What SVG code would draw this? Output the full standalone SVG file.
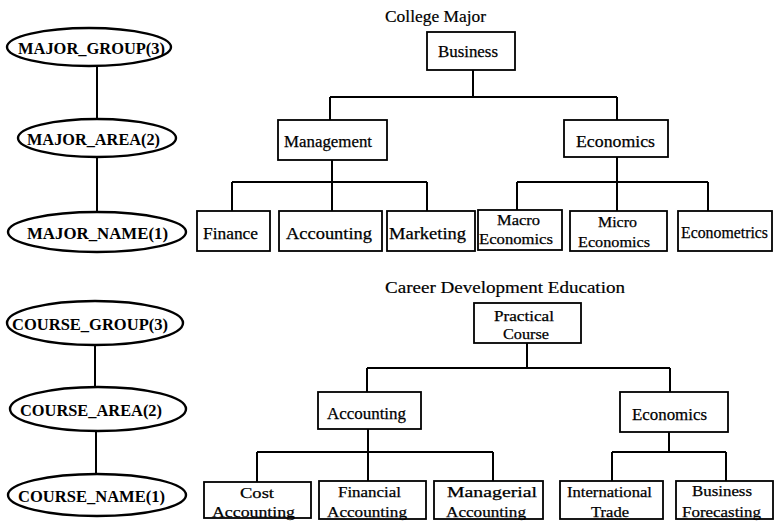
<svg xmlns="http://www.w3.org/2000/svg" width="775" height="522" viewBox="0 0 775 522">
  <style>
    .ell { fill: #fff; stroke: #000; stroke-width: 2.4; }
    .box { fill: #fff; stroke: #000; stroke-width: 1.8; }
    .lvl { font-family: "Liberation Serif", "Times New Roman", serif; font-size: 17.5px; font-weight: bold; fill: #000; }
    .lbl { font-family: "Liberation Serif", "Times New Roman", serif; font-size: 16.5px; fill: #000; stroke: #000; stroke-width: 0.25; }
    .lbl2 { font-family: "Liberation Serif", "Times New Roman", serif; font-size: 15px; fill: #000; stroke: #000; stroke-width: 0.25; }
    .ttl { font-family: "Liberation Serif", "Times New Roman", serif; font-size: 17px; fill: #000; stroke: #000; stroke-width: 0.2; }
    .con { fill: none; stroke: #000; stroke-width: 2; }
  </style>
  <rect width="775" height="522" fill="#fff"/>

  <!-- connectors -->
  <g id="connectors" class="con">
    <!-- major hierarchy levels -->
    <path d="M97,66 V119 M97,157 V212"/>
    <!-- course hierarchy levels -->
    <path d="M95,345 V387 M96,431 V474"/>
    <!-- College Major tree -->
    <path d="M473,70 V97 M330,97 H617 M330,97 V120 M617,97 V120"/>
    <path d="M332,160 V182 M232,182 H427 M232,182 V211 M332,182 V211 M427,182 V211"/>
    <path d="M617,157 V182 M517,182 H708 M517,182 V210 M617,182 V211 M708,182 V211"/>
    <!-- Career Development Education tree -->
    <path d="M527,343 V368 M367,368 H670 M367,368 V392 M670,368 V392"/>
    <path d="M368,429 V452 M257,452 H493 M257,452 V482 M368,452 V481 M493,452 V481"/>
    <path d="M669,432 V452 M612,452 H726 M612,452 V481 M726,452 V481"/>
  </g>

  <!-- level ellipses -->
  <g id="major-group">
    <ellipse class="ell" cx="89" cy="47" rx="82" ry="19"/>
    <text class="lvl" x="18" y="54" textLength="147" lengthAdjust="spacingAndGlyphs">MAJOR_GROUP(3)</text>
  </g>
  <g id="major-area">
    <ellipse class="ell" cx="97" cy="138" rx="79" ry="19"/>
    <text class="lvl" x="27" y="145" textLength="133" lengthAdjust="spacingAndGlyphs">MAJOR_AREA(2)</text>
  </g>
  <g id="major-name">
    <ellipse class="ell" cx="97" cy="232" rx="89" ry="20"/>
    <text class="lvl" x="27" y="239" textLength="141" lengthAdjust="spacingAndGlyphs">MAJOR_NAME(1)</text>
  </g>
  <g id="course-group">
    <ellipse class="ell" cx="95" cy="323" rx="88" ry="22"/>
    <text class="lvl" x="12" y="330" textLength="156" lengthAdjust="spacingAndGlyphs">COURSE_GROUP(3)</text>
  </g>
  <g id="course-area">
    <ellipse class="ell" cx="98" cy="409" rx="88" ry="22"/>
    <text class="lvl" x="20" y="416" textLength="142" lengthAdjust="spacingAndGlyphs">COURSE_AREA(2)</text>
  </g>
  <g id="course-name">
    <ellipse class="ell" cx="97" cy="495" rx="89" ry="21"/>
    <text class="lvl" x="18" y="502" textLength="147" lengthAdjust="spacingAndGlyphs">COURSE_NAME(1)</text>
  </g>

  <!-- College Major tree -->
  <text class="ttl" x="385" y="22" textLength="101" lengthAdjust="spacingAndGlyphs">College Major</text>
  <g id="business">
    <rect class="box" x="427" y="32" width="88" height="38"/>
    <text class="lbl" x="438" y="57" textLength="60" lengthAdjust="spacingAndGlyphs">Business</text>
  </g>
  <g id="management">
    <rect class="box" x="278" y="120" width="109" height="40"/>
    <text class="lbl" x="284" y="147" textLength="88" lengthAdjust="spacingAndGlyphs">Management</text>
  </g>
  <g id="economics-major">
    <rect class="box" x="564" y="120" width="104" height="37"/>
    <text class="lbl" x="576" y="147" textLength="79" lengthAdjust="spacingAndGlyphs">Economics</text>
  </g>
  <g id="finance">
    <rect class="box" x="197" y="211" width="73" height="40"/>
    <text class="lbl" x="203" y="239" textLength="55" lengthAdjust="spacingAndGlyphs">Finance</text>
  </g>
  <g id="accounting-major">
    <rect class="box" x="279" y="211" width="103" height="40"/>
    <text class="lbl" x="286" y="239" textLength="86" lengthAdjust="spacingAndGlyphs">Accounting</text>
  </g>
  <g id="marketing">
    <rect class="box" x="387" y="211" width="88" height="40"/>
    <text class="lbl" x="389" y="239" textLength="77" lengthAdjust="spacingAndGlyphs">Marketing</text>
  </g>
  <g id="macro-economics">
    <rect class="box" x="478" y="210" width="84" height="40"/>
    <text class="lbl2" x="497" y="225" textLength="43" lengthAdjust="spacingAndGlyphs">Macro</text>
    <text class="lbl2" x="479" y="244" textLength="74" lengthAdjust="spacingAndGlyphs">Economics</text>
  </g>
  <g id="micro-economics">
    <rect class="box" x="570" y="211" width="97" height="40"/>
    <text class="lbl2" x="598" y="227" textLength="39" lengthAdjust="spacingAndGlyphs">Micro</text>
    <text class="lbl2" x="578" y="247" textLength="72" lengthAdjust="spacingAndGlyphs">Economics</text>
  </g>
  <g id="econometrics">
    <rect class="box" x="678" y="211" width="94" height="40"/>
    <text class="lbl" x="681" y="238" textLength="87" lengthAdjust="spacingAndGlyphs">Econometrics</text>
  </g>

  <!-- Career Development Education tree -->
  <text class="ttl" x="385" y="293" textLength="240" lengthAdjust="spacingAndGlyphs">Career Development Education</text>
  <g id="practical-course">
    <rect class="box" x="474" y="303" width="107" height="40"/>
    <text class="lbl2" x="494" y="321" textLength="60" lengthAdjust="spacingAndGlyphs">Practical</text>
    <text class="lbl2" x="503" y="339" textLength="46" lengthAdjust="spacingAndGlyphs">Course</text>
  </g>
  <g id="accounting-course">
    <rect class="box" x="318" y="392" width="103" height="37"/>
    <text class="lbl" x="327" y="419" textLength="79" lengthAdjust="spacingAndGlyphs">Accounting</text>
  </g>
  <g id="economics-course">
    <rect class="box" x="620" y="392" width="108" height="40"/>
    <text class="lbl" x="632" y="420" textLength="75" lengthAdjust="spacingAndGlyphs">Economics</text>
  </g>
  <g id="cost-accounting">
    <rect class="box" x="204" y="482" width="107" height="36"/>
    <text class="lbl2" x="240" y="498" textLength="34" lengthAdjust="spacingAndGlyphs">Cost</text>
    <text class="lbl2" x="212" y="517" textLength="83" lengthAdjust="spacingAndGlyphs">Accounting</text>
  </g>
  <g id="financial-accounting">
    <rect class="box" x="319" y="481" width="107" height="38"/>
    <text class="lbl2" x="338" y="497" textLength="63" lengthAdjust="spacingAndGlyphs">Financial</text>
    <text class="lbl2" x="327" y="517" textLength="80" lengthAdjust="spacingAndGlyphs">Accounting</text>
  </g>
  <g id="managerial-accounting">
    <rect class="box" x="434" y="481" width="109" height="38"/>
    <text class="lbl2" x="447" y="497" textLength="90" lengthAdjust="spacingAndGlyphs">Managerial</text>
    <text class="lbl2" x="446" y="517" textLength="80" lengthAdjust="spacingAndGlyphs">Accounting</text>
  </g>
  <g id="international-trade">
    <rect class="box" x="560" y="481" width="103" height="38"/>
    <text class="lbl2" x="567" y="497" textLength="85" lengthAdjust="spacingAndGlyphs">International</text>
    <text class="lbl2" x="591" y="517" textLength="38" lengthAdjust="spacingAndGlyphs">Trade</text>
  </g>
  <g id="business-forecasting">
    <rect class="box" x="676" y="481" width="97" height="38"/>
    <text class="lbl2" x="692" y="496" textLength="60" lengthAdjust="spacingAndGlyphs">Business</text>
    <text class="lbl2" x="682" y="517" textLength="79" lengthAdjust="spacingAndGlyphs">Forecasting</text>
  </g>
</svg>
